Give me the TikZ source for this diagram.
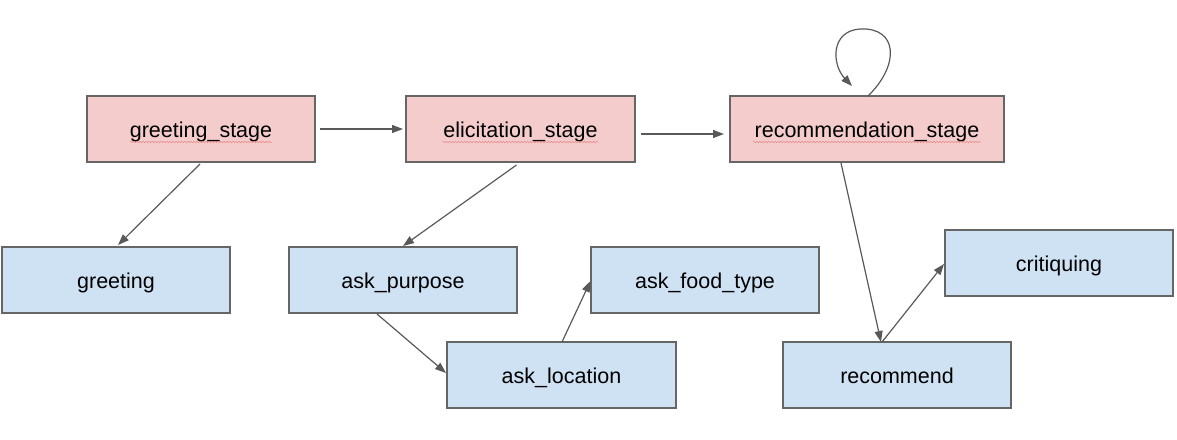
\documentclass[tikz,border=0pt]{standalone}
\usepackage{fontspec}
\setmainfont{Liberation Sans}
\usetikzlibrary{arrows.meta,decorations.pathmorphing}
\definecolor{stagefill}{HTML}{F4CCCC}
\definecolor{actfill}{HTML}{CFE2F3}
\definecolor{boxline}{HTML}{666666}
\definecolor{arrline}{HTML}{595959}
\definecolor{squig}{HTML}{E88A8A}
\tikzset{
  box/.style={draw=boxline, line width=1.3pt, rectangle, inner sep=0pt, outer sep=0pt,
    minimum height=66pt, text height=21.5pt, text depth=4.5pt,
    font=\fontsize{21.5}{24}\selectfont},
  stagebox/.style={box, fill=stagefill},
  actbox/.style={box, fill=actfill},
  conn/.style={draw=arrline, line width=1.2pt, -{Triangle[length=11pt,width=8pt]}},
  squiggle/.style={draw=squig, line width=0.5pt, decorate,
    decoration={snake, amplitude=0.8pt, segment length=3pt}}
}
\begin{document}
\begin{tikzpicture}[x=1pt,y=-1pt]
\useasboundingbox (0,0) rectangle (1177,439);
\node[stagebox, minimum width=228pt] (gs) at (201,129) {greeting\_stage};
\node[stagebox, minimum width=229pt] (es) at (520.5,129) {elicitation\_stage};
\node[stagebox, minimum width=274pt] (rs) at (867,129) {recommendation\_stage};
\node[actbox, minimum width=228pt] (gr) at (116,280) {greeting};
\node[actbox, minimum width=228pt] (ap) at (403,280) {ask\_purpose};
\node[actbox, minimum width=228pt] (af) at (705,280) {ask\_food\_type};
\node[actbox, minimum width=229pt] (al) at (561.5,375) {ask\_location};
\node[actbox, minimum width=228pt] (cr) at (1059,263) {critiquing};
\node[actbox, minimum width=228pt] (rc) at (897,375) {recommend};
% spell-check squiggles
\draw[squiggle] ([xshift=-71pt,yshift=-13pt]gs.center) -- ([xshift=71pt,yshift=-13pt]gs.center);
\draw[squiggle] ([xshift=-78pt,yshift=-13pt]es.center) -- ([xshift=78pt,yshift=-13pt]es.center);
\draw[squiggle] ([xshift=-114pt,yshift=-13pt]rs.center) -- ([xshift=114pt,yshift=-13pt]rs.center);
% connectors
\draw[conn] ([xshift=5pt]gs.east) -- ([xshift=-3pt]es.west);
\draw[conn] ([xshift=6pt,yshift=-5pt]es.east) -- ([xshift=-6pt,yshift=-5pt]rs.west);
\draw[conn] ([xshift=-1pt,yshift=-2pt]gs.south) -- ([xshift=2pt,yshift=2pt]gr.north);
\draw[conn] ([xshift=-4pt,yshift=-3pt]es.south) -- ([yshift=1pt]ap.north);
\draw[conn] ([xshift=-26pt,yshift=-1pt]ap.south) -- ([xshift=-1pt,yshift=2pt]al.west);
\draw[conn] ([xshift=0.5pt]al.north) -- ([xshift=-0.5pt,yshift=-1pt]af.west);
\draw[conn] ([xshift=-26pt,yshift=-1pt]rs.south) -- ([xshift=-16pt]rc.north);
\draw[conn] ([xshift=-15pt]rc.north) -- ([xshift=-1pt,yshift=-1pt]cr.west);
\coordinate (loopend) at ([xshift=-15pt,yshift=10pt]rs.north);
\draw[conn] ([xshift=1pt]rs.north) .. controls (900,65) and (898,27) .. (860,29)
  .. controls (830,31) and (832,65) .. (loopend);
\end{tikzpicture}
\end{document}
